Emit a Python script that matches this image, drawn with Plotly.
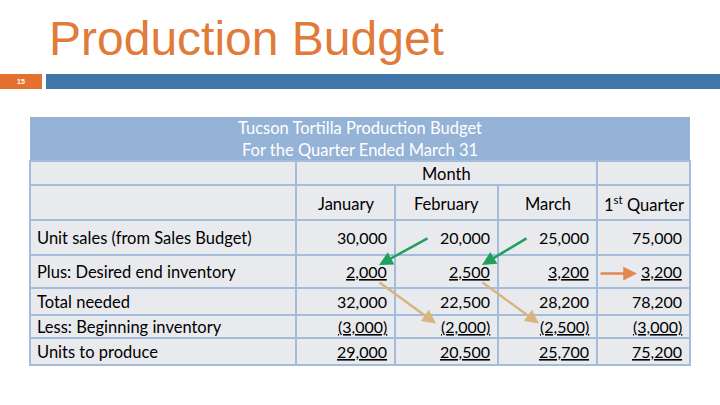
import plotly.graph_objects as go

title = "Production Budget"
page_no = "15"
header_lines = ["Tucson Tortilla Production Budget", "For the Quarter Ended March 31"]
group_label = "Month"
columns = ["January", "February", "March", "1<sup>st</sup> Quarter"]
row_labels = ["Unit sales (from Sales Budget)", "Plus: Desired end inventory",
              "Total needed", "Less: Beginning inventory", "Units to produce"]
unit_sales = [30000, 20000, 25000, 75000]
desired_end = [2000, 2500, 3200, 3200]
total_needed = [32000, 22500, 28200, 78200]
beginning_inv = [3000, 2000, 2500, 3000]
units_to_produce = [29000, 20500, 25700, 75200]

values = [unit_sales, desired_end, total_needed, beginning_inv, units_to_produce]
negative = [False, False, False, True, False]
underlined = [False, True, False, True, True]

# table geometry (pixels, page coordinates)
col_edges = [30, 296, 395, 498, 597, 690]
row_edges = [117, 161, 185, 220, 255, 288, 315, 338, 365]
line_col = "#A3BCD9"
cell_fill = "#E9EAEE"
head_fill = "#95B3D7"
font = "Lato"
fs = 16.5
fs_num = 16

shapes = []
ann = []


def rect(x0, y0, x1, y1, fill, line=line_col, w=2):
    shapes.append(dict(type="rect", xref="x", yref="y", x0=x0, y0=y0, x1=x1, y1=y1,
                       fillcolor=fill, line=dict(color=line, width=w), layer="below"))


def text(x, y, s, anchor="left", color="black", size=fs, fam=font):
    ann.append(dict(x=x, y=y, xref="x", yref="y", text=s, showarrow=False,
                    xanchor=anchor, yanchor="middle",
                    font=dict(family=fam, size=size, color=color)))


# slide decorations
text(47, 38, title, color="#E07B39", size=48, fam="Liberation Sans")
rect(0, 74, 42, 89, "#E4722E", line="#E4722E", w=0)
text(21, 81.5, "<b>" + page_no + "</b>", anchor="center", color="white", size=7, fam="Liberation Sans")
rect(46, 74, 720, 89, "#3E77A8", line="#3E77A8", w=0)

# header band
rect(col_edges[0], row_edges[0], col_edges[-1], row_edges[1], head_fill, line=head_fill, w=0)
mid = (col_edges[0] + col_edges[-1]) / 2
text(mid, 128, header_lines[0], anchor="center", color="white")
text(mid, 150, header_lines[1], anchor="center", color="white")

# "Month" row
r0, r1 = row_edges[1], row_edges[2]
rect(col_edges[0], r0, col_edges[1], r1, cell_fill)
rect(col_edges[1], r0, col_edges[4], r1, cell_fill)
rect(col_edges[4], r0, col_edges[5], r1, cell_fill)
text((col_edges[1] + col_edges[4]) / 2, (r0 + r1) / 2 + 1, group_label, anchor="center")

# column header row + data rows
for ri in range(2, len(row_edges) - 1):
    r0, r1 = row_edges[ri], row_edges[ri + 1]
    for ci in range(len(col_edges) - 1):
        rect(col_edges[ci], r0, col_edges[ci + 1], r1, cell_fill)

r0, r1 = row_edges[2], row_edges[3]
for ci, c in enumerate(columns):
    text((col_edges[ci + 1] + col_edges[ci + 2]) / 2, (r0 + r1) / 2 + 1, c, anchor="center")

for i, lab in enumerate(row_labels):
    r0, r1 = row_edges[i + 3], row_edges[i + 4]
    yc = (r0 + r1) / 2
    text(col_edges[0] + 5, yc, lab)
    for ci, v in enumerate(values[i]):
        s = f"{v:,}"
        if negative[i]:
            s = f"({s})"
        if underlined[i]:
            s = f"<u>{s}</u>"
        text(col_edges[ci + 2] - 6, yc, s, anchor="right", size=fs_num)

# flow arrows between cells: (row, col) tail -> (row, col) head
def row_mid(r):
    return (row_edges[r + 3] + row_edges[r + 4]) / 2


def col_r(c):
    return col_edges[c + 2]


def col_l(c):
    return col_edges[c + 1]


arrows = []
for c in range(2):
    # next month sales -> desired end inventory
    arrows.append(((col_r(c + 1) - 69, row_mid(0)), (col_r(c) - 16, row_edges[4] + 10), "#21A05C"))
    # desired end inventory -> next month beginning inventory
    arrows.append(((col_r(c) - 17, row_mid(1) + 10), (col_l(c + 1) + 41, row_mid(3) - 3), "#D8B57F"))
arrows.append(((col_r(2) + 2, row_mid(1) + 2), (col_l(3) + 40, row_mid(1) + 2), "#E2884F"))

for (tx, ty), (hx, hy), colr in arrows:
    ann.append(dict(x=hx, y=hy, ax=tx, ay=ty, xref="x", yref="y", axref="x", ayref="y",
                    text="", showarrow=True, arrowhead=2, arrowsize=1.1, arrowwidth=2.5,
                    arrowcolor=colr, standoff=0, startstandoff=0))

fig = go.Figure()
fig.update_layout(
    width=720, height=405, margin=dict(l=0, r=0, t=0, b=0),
    paper_bgcolor="white", plot_bgcolor="white",
    xaxis=dict(range=[0, 720], visible=False, fixedrange=True),
    yaxis=dict(range=[405, 0], visible=False, fixedrange=True),
    shapes=shapes, annotations=ann, showlegend=False,
)
# drop the browser's default 8px page margin so the slide sits at the window origin
fig.write_html("out.html", config={"displayModeBar": False},
               post_script="document.body.style.margin='0';")
